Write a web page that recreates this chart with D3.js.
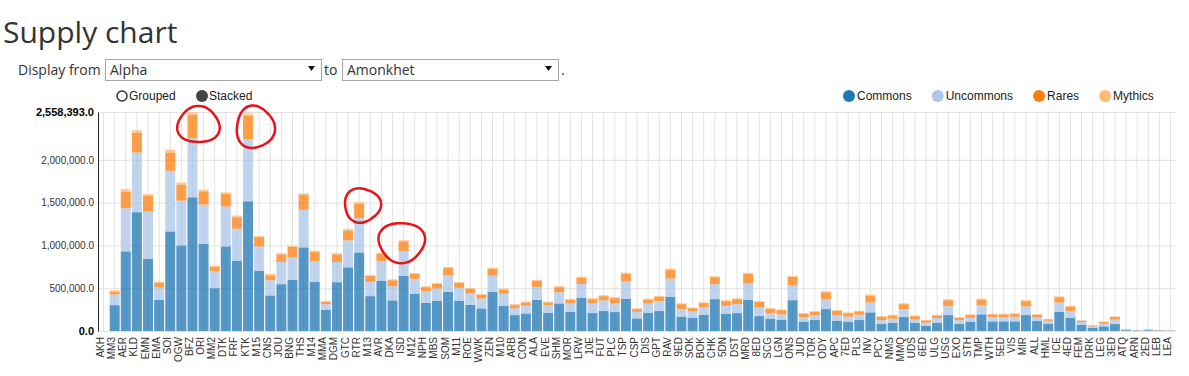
<!DOCTYPE html>
<html>
<head>
<meta charset="utf-8">
<script src="https://cdn.jsdelivr.net/npm/d3@7"></script>
<style>
body { margin: 0; background: #fff; }
svg { display: block; font-family: "Liberation Sans", Arial, sans-serif; }
.grid line { stroke: #e2e2e2; }
.grid path { display: none; }
</style>
</head>
<body>
<svg id="chart"></svg>
<script>
// set codes, newest first
var sets = ["AKH","MM3","AER","KLD","EMN","EMA","SOI","OGW","BFZ","ORI","MM2","DTK","FRF","KTK","M15","CNS","JOU","BNG","THS","M14",
  "MMA","DGM","GTC","RTR","M13","AVR","DKA","ISD","M12","NPH","MBS","SOM","M11","ROE","WWK","ZEN","M10","ARB","CON","ALA",
  "EVE","SHM","MOR","LRW","10E","FUT","PLC","TSP","CSP","DIS","GPT","RAV","9ED","SOK","BOK","CHK","5DN","DST","MRD","8ED",
  "SCG","LGN","ONS","JUD","TOR","ODY","APC","7ED","PLS","INV","PCY","NMS","MMQ","UDS","6ED","ULG","USG","EXO","STH","TMP",
  "WTH","5ED","VIS","MIR","ALL","HML","ICE","4ED","FEM","DRK","LEG","3ED","ATQ","ARN","2ED","LEB","LEA"];

// values (cards)
var commons = [0,302000,930000,1388000,845000,364000,1163000,1000000,1562000,1019000,500000,988000,818000,1515000,702000,415000,547000,597000,977000,574000,
  248000,570000,744000,918000,407000,585000,357000,643000,434000,329000,353000,457000,353000,306000,264000,457000,295000,186000,205000,364000,
  213000,322000,225000,388000,209000,233000,221000,376000,147000,213000,233000,399000,167000,155000,190000,372000,202000,209000,364000,174000,
  140000,132000,360000,109000,128000,256000,120000,109000,128000,217000,81000,97000,163000,97000,62000,97000,186000,85000,109000,194000,
  112000,112000,112000,186000,116000,85000,225000,155000,70000,35000,54000,81000,9000,5000,9000,5000,3000];
var uncommons = [0,124000,504000,697000,550000,148000,709000,523000,690000,458000,198000,466000,376000,725000,286000,178000,259000,267000,438000,244000,
  66000,236000,314000,400000,167000,233000,166000,291000,175000,136000,143000,194000,151000,132000,116000,190000,139000,81000,90000,152000,
  89000,131000,97000,162000,113000,124000,101000,205000,78000,109000,116000,213000,89000,78000,89000,175000,93000,105000,190000,101000,
  69000,62000,171000,54000,54000,116000,66000,58000,62000,116000,47000,46000,89000,39000,35000,54000,105000,43000,46000,108000,
  51000,51000,55000,101000,43000,35000,108000,78000,35000,19000,31000,51000,5000,3000,5000,3000,2000];
var rares = [0,31000,194000,233000,186000,50000,213000,182000,275000,155000,50000,147000,135000,272000,109000,58000,89000,117000,174000,104000,
  27000,89000,116000,170000,69000,85000,70000,113000,58000,47000,54000,85000,58000,54000,42000,82000,50000,35000,38000,69000,
  31000,59000,42000,74000,50000,50000,62000,90000,31000,46000,50000,105000,58000,34000,47000,81000,54000,58000,113000,66000,
  51000,50000,101000,39000,43000,81000,50000,42000,39000,82000,39000,39000,62000,38000,27000,31000,69000,27000,31000,66000,
  31000,31000,31000,62000,31000,16000,62000,54000,15000,12000,20000,31000,6000,3000,6000,3000,2000];
var mythics = [0,20000,31000,27000,20000,16000,35000,31000,31393,19000,16000,19000,20000,31000,12000,16000,16000,15000,20000,16000,
  12000,16000,20000,17000,12000,12000,12000,15000,11000,11000,12000,12000,12000,12000,12000,11000,12000,12000,12000,12000,
  12000,11000,12000,12000,12000,12000,11000,11000,8000,10000,10000,12000,10000,8000,10000,12000,10000,10000,12000,10000,
  8000,8000,12000,8000,8000,12000,8000,8000,8000,12000,8000,8000,10000,6000,6000,8000,10000,6000,8000,10000,
  8000,8000,8000,10000,8000,6000,10000,8000,5000,4000,5000,8000,2000,1000,2000,1000,1000];

var rarities = ["Commons","Uncommons","Rares","Mythics"];
var colors = ["#1f77b4","#aec7e8","#ff7f0e","#ffbb78"];
var circled = ["BFZ","KTK","RTR","ISD"];

var width = 1189, height = 376;
var plotLeft = 98, plotRight = 1176, plotTop = 112, plotBottom = 331;

var rows = sets.map(function(s, i) {
  return {set: s, Commons: commons[i], Uncommons: uncommons[i], Rares: rares[i], Mythics: mythics[i]};
});
var stacked = d3.stack().keys(rarities)(rows);
var maxTotal = d3.max(rows, d => d.Commons + d.Uncommons + d.Rares + d.Mythics);

var svg = d3.select("#chart").attr("width", width).attr("height", height);

// header
svg.append("text").attr("x", 3).attr("y", 43).text("Supply chart")
  .style("font-family", "'Open Sans'").style("font-size", "30px").style("fill", "#333");

var ctl = svg.append("g").style("font-family", "'Open Sans'").style("font-size", "14px").style("fill", "#333");
ctl.append("text").attr("x", 18).attr("y", 75).text("Display from");
ctl.append("text").attr("x", 324).attr("y", 75).text("to");
ctl.append("text").attr("x", 561).attr("y", 75).text(".");
[[105, "Alpha"], [342, "Amonkhet"]].forEach(function(b) {
  ctl.append("rect").attr("x", b[0] + 0.5).attr("y", 59.5).attr("width", 216).attr("height", 21)
    .attr("fill", "#fff").attr("stroke", "#a6a6a6");
  ctl.append("text").attr("x", b[0] + 5).attr("y", 75).text(b[1]);
  ctl.append("path").attr("d", "M" + (b[0] + 203) + ",66h7l-3.5,5z").attr("fill", "#111");
});

// grouped / stacked radios
var radio = svg.append("g").style("font-size", "12px").style("fill", "#222");
radio.append("circle").attr("cx", 122).attr("cy", 96).attr("r", 5).attr("fill", "#fff").attr("stroke", "#333").attr("stroke-width", 1.5);
radio.append("text").attr("x", 129).attr("y", 100).text("Grouped");
radio.append("circle").attr("cx", 202).attr("cy", 96).attr("r", 6).attr("fill", "#444");
radio.append("text").attr("x", 209).attr("y", 100).text("Stacked");

// legend
var lx = 843;
rarities.forEach(function(r, i) {
  var g = svg.append("g").attr("transform", "translate(" + lx + ",96)");
  g.append("circle").attr("cx", 6).attr("r", 6).attr("fill", colors[i]);
  var t = g.append("text").attr("x", 14).attr("y", 4).text(r).style("font-size", "12px").style("fill", "#222");
  lx += 14 + t.node().getComputedTextLength() + 20;
});

var x = d3.scaleBand().domain(sets).range([plotLeft, plotRight]).paddingInner(0.1).paddingOuter(0.05);
var y = d3.scaleLinear().domain([0, maxTotal]).range([plotBottom, plotTop]);
var yTicks = [0, 500000, 1000000, 1500000, 2000000, maxTotal];

// grid
svg.append("g").attr("class", "grid")
  .attr("transform", "translate(0," + plotBottom + ")")
  .call(d3.axisBottom(x).tickSize(-(plotBottom - plotTop)).tickFormat(""));
svg.append("g").attr("class", "grid")
  .attr("transform", "translate(" + plotLeft + ",0)")
  .call(d3.axisLeft(y).tickValues(yTicks).tickSize(-(plotRight - plotLeft)).tickFormat(""));

// stacked bars
svg.append("g").selectAll("g")
  .data(stacked)
  .enter().append("g")
    .attr("fill", (d, i) => colors[i])
    .attr("fill-opacity", 0.76)
  .selectAll("rect")
  .data(d => d)
  .enter().append("rect")
    .attr("x", d => x(d.data.set))
    .attr("width", x.bandwidth())
    .attr("y", d => y(d[1]))
    .attr("height", d => y(d[0]) - y(d[1]));

// x labels
var xa = svg.append("g").attr("transform", "translate(0," + plotBottom + ")")
  .call(d3.axisBottom(x).tickSize(0));
xa.select(".domain").remove();
xa.selectAll("text")
  .attr("transform", "rotate(-90)")
  .attr("text-anchor", "end")
  .attr("x", -6).attr("y", 0).attr("dy", "0.05em")
  .style("font-size", "10px").style("fill", "#333").style("font-family", "'Liberation Sans', Arial");

// y axis
var ya = svg.append("g").attr("transform", "translate(" + plotLeft + ",0)")
  .call(d3.axisLeft(y).tickValues(yTicks).tickSize(0).tickPadding(4).tickFormat(d3.format(",.1f")));
ya.select(".domain").attr("stroke", "#222");
ya.selectAll("text")
  .style("font-family", "'Liberation Sans', Arial")
  .style("font-size", d => (d === 0 || d === maxTotal) ? "11px" : "10px")
  .style("font-weight", d => (d === 0 || d === maxTotal) ? "bold" : "normal")
  .style("fill", d => (d === 0 || d === maxTotal) ? "#000" : "#333");

// red hand-drawn circles around some sets
var marks = [[6, 13, 21, 18], [7, 14, 19, 21], [3, 3, 18, 17], [-2, 2, 23, 20]];
var scribble = d3.line().curve(d3.curveCatmullRom);
circled.forEach(function(s, i) {
  var row = rows[sets.indexOf(s)];
  var tot = row.Commons + row.Uncommons + row.Rares + row.Mythics;
  var cx = x(s) + x.bandwidth() / 2 + marks[i][0], cy = y(tot) + marks[i][1];
  var pts = d3.range(0, 41).map(function(j) {
    var a = -2.2 + j / 40 * Math.PI * 2.15;
    var k = 1 + 0.06 * Math.sin(a * 3 + i);
    return [cx + Math.cos(a) * marks[i][2] * k, cy + Math.sin(a) * marks[i][3] * k];
  });
  svg.append("path").attr("d", scribble(pts)).attr("fill", "none")
    .attr("stroke", "#e5141b").attr("stroke-width", 2.5).attr("stroke-linecap", "round");
});
</script>
</body>
</html>
